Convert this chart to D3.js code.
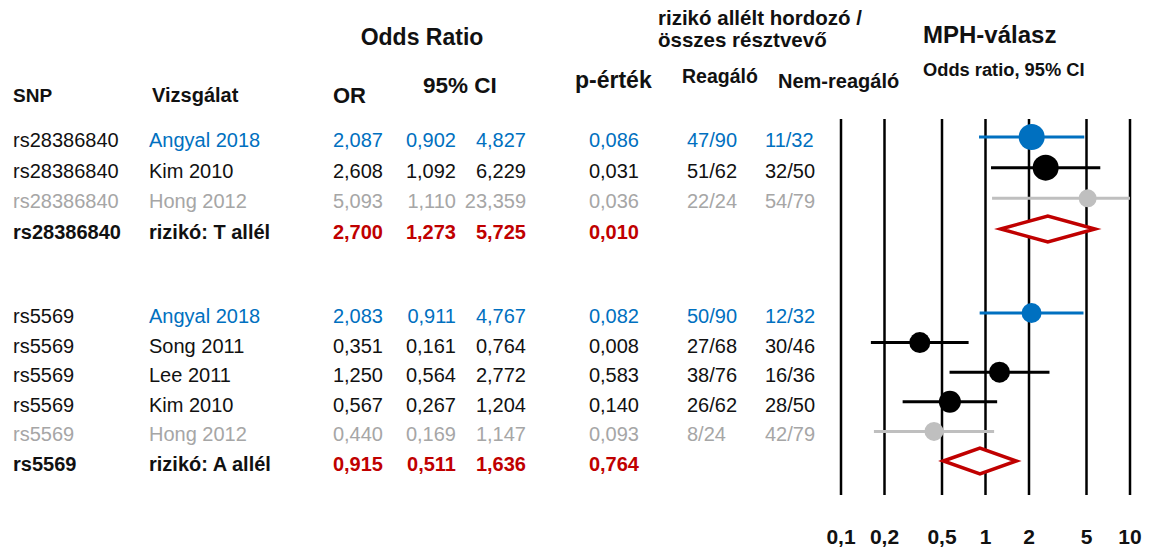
<!DOCTYPE html>
<html>
<head>
<meta charset="utf-8">
<script src="https://cdn.jsdelivr.net/npm/d3@7"></script>
<style>
  html, body { margin: 0; padding: 0; background: #fff; }
  svg { display: block; font-family: "Liberation Sans", Arial, sans-serif; }
</style>
</head>
<body>
<svg id="chart" width="1149" height="550"></svg>
<script>
// Forest plot: MPH response by SNP risk allele
const snps      = ["rs28386840", "rs28386840", "rs28386840", "rs28386840",
                   "rs5569", "rs5569", "rs5569", "rs5569", "rs5569", "rs5569"];
const studies   = ["Angyal 2018", "Kim 2010", "Hong 2012", "rizikó: T allél",
                   "Angyal 2018", "Song 2011", "Lee 2011", "Kim 2010", "Hong 2012", "rizikó: A allél"];
const kinds     = ["own", "lit", "excl", "pooled",
                   "own", "lit", "lit", "lit", "excl", "pooled"];
const groupIdx  = [0, 0, 0, 0, 1, 1, 1, 1, 1, 1];
const orValues  = [2.087, 2.608, 5.093, 2.700, 2.083, 0.351, 1.250, 0.567, 0.440, 0.915];
const ciLow     = [0.902, 1.092, 1.110, 1.273, 0.911, 0.161, 0.564, 0.267, 0.169, 0.511];
const ciHigh    = [4.827, 6.229, 23.359, 5.725, 4.767, 0.764, 2.772, 1.204, 1.147, 1.636];
const pValues   = [0.086, 0.031, 0.036, 0.010, 0.082, 0.008, 0.583, 0.140, 0.093, 0.764];
const responders    = ["47/90", "51/62", "22/24", "", "50/90", "27/68", "38/76", "26/62", "8/24", ""];
const nonResponders = ["11/32", "32/50", "54/79", "", "12/32", "30/46", "16/36", "28/50", "42/79", ""];
const axisTicks = [0.1, 0.2, 0.5, 1, 2, 5, 10];

// marker radius per row (study weight look)
const markerR = [13, 13, 9, 0, 10, 10.5, 10.5, 11, 9.5, 0];

const color = { own: "#0070C0", lit: "#111111", excl: "#A6A6A6", pooled: "#C00000" };
const markColor = { own: "#0070C0", lit: "#000000", excl: "#BFBFBF", pooled: "#C00000" };
// SNP / study name colours (pooled rows keep dark labels, SNP of own rows stays dark)
const snpColor = { own: "#111111", lit: "#111111", excl: "#A6A6A6", pooled: "#111111" };
const studyColor = { own: "#0070C0", lit: "#111111", excl: "#A6A6A6", pooled: "#111111" };

const rows = snps.map((s, i) => ({
  snp: s, study: studies[i], kind: kinds[i], group: groupIdx[i],
  or: orValues[i], lo: ciLow[i], hi: ciHigh[i], p: pValues[i],
  resp: responders[i], nonresp: nonResponders[i], r: markerR[i]
}));
// index of each row inside its group
const counters = {};
rows.forEach(d => { counters[d.group] = (counters[d.group] || 0); d.idx = counters[d.group]++; });

const svg = d3.select("#chart");

const fmt3 = v => d3.format(".3f")(v).replace(".", ",");
const fmtTick = v => String(v).replace(".", ",");

// row baselines, one scale per SNP block
const yScales = [
  d3.scaleLinear().domain([0, 3]).range([147, 239]),
  d3.scaleLinear().domain([0, 5]).range([323, 471])
];
const yBase = d => yScales[d.group](d.idx);

// log odds-ratio scale
const x = d3.scaleLog().domain([0.1, 10]).range([841, 1130]).clamp(true);
const plotTop = 119, plotBottom = 495;

// headers
const hdr = svg.append("g").attr("font-weight", "bold").attr("fill", "#111");
hdr.append("text").attr("x", 422).attr("y", 45).attr("text-anchor", "middle")
   .attr("font-size", 23).text("Odds Ratio");
hdr.append("text").attr("x", 13).attr("y", 102).attr("font-size", 19).text("SNP");
hdr.append("text").attr("x", 152).attr("y", 102).attr("font-size", 20).text("Vizsgálat");
hdr.append("text").attr("x", 333).attr("y", 103).attr("font-size", 22).text("OR");
hdr.append("text").attr("x", 423).attr("y", 93).attr("font-size", 22.5).text("95% CI");
hdr.append("text").attr("x", 575).attr("y", 88).attr("font-size", 23).text("p-érték");
hdr.append("text").attr("x", 658).attr("y", 25).attr("font-size", 20.5).text("rizikó allélt hordozó /");
hdr.append("text").attr("x", 658).attr("y", 47).attr("font-size", 20.5).text("összes résztvevő");
hdr.append("text").attr("x", 682).attr("y", 83).attr("font-size", 19.5).text("Reagáló");
hdr.append("text").attr("x", 778).attr("y", 88).attr("font-size", 20).text("Nem-reagáló");
hdr.append("text").attr("x", 923).attr("y", 43).attr("font-size", 24).text("MPH-válasz");
hdr.append("text").attr("x", 923).attr("y", 76).attr("font-size", 18.3).text("Odds ratio, 95% CI");

// table body
const body = svg.append("g").attr("font-size", 20);
const rowG = body.selectAll("g.row").data(rows).join("g")
  .attr("class", "row")
  .attr("fill", d => color[d.kind])
  .attr("font-weight", d => d.kind === "pooled" ? "bold" : "normal");

rowG.append("text").attr("x", 13).attr("y", yBase)
  .attr("fill", d => snpColor[d.kind])
  .text(d => d.snp);
rowG.append("text").attr("x", 149).attr("y", yBase)
  .attr("fill", d => studyColor[d.kind])
  .text(d => d.study);
rowG.append("text").attr("x", 383).attr("y", yBase).attr("text-anchor", "end").text(d => fmt3(d.or));
rowG.append("text").attr("x", 456).attr("y", yBase).attr("text-anchor", "end").text(d => fmt3(d.lo));
rowG.append("text").attr("x", 526).attr("y", yBase).attr("text-anchor", "end").text(d => fmt3(d.hi));
rowG.append("text").attr("x", 639).attr("y", yBase).attr("text-anchor", "end").text(d => fmt3(d.p));
rowG.append("text").attr("x", 687).attr("y", yBase).text(d => d.resp);
rowG.append("text").attr("x", 765).attr("y", yBase).text(d => d.nonresp);

// reference lines at tick values
svg.append("g").selectAll("line").data(axisTicks).join("line")
  .attr("x1", d => x(d)).attr("x2", d => x(d))
  .attr("y1", plotTop).attr("y2", plotBottom)
  .attr("stroke", "#000").attr("stroke-width", 2.5);

// tick labels
svg.append("g").attr("font-size", 21).attr("font-weight", "bold").attr("fill", "#111")
  .selectAll("text").data(axisTicks).join("text")
  .attr("x", d => x(d)).attr("y", 544).attr("text-anchor", "middle")
  .text(fmtTick);

const markY = d => yBase(d) - 10;
const studiesOnly = rows.filter(d => d.kind !== "pooled");
const pooled = rows.filter(d => d.kind === "pooled");

// confidence intervals
svg.append("g").selectAll("line").data(studiesOnly).join("line")
  .attr("x1", d => x(d.lo)).attr("x2", d => x(d.hi))
  .attr("y1", markY).attr("y2", markY)
  .attr("stroke", d => markColor[d.kind]).attr("stroke-width", 3);

// point estimates
svg.append("g").selectAll("circle").data(studiesOnly).join("circle")
  .attr("cx", d => x(d.or)).attr("cy", markY).attr("r", d => d.r)
  .attr("fill", d => markColor[d.kind]);

// pooled estimates as diamonds
const dh = 13;
svg.append("g").selectAll("path").data(pooled).join("path")
  .attr("d", d => {
    const cy = markY(d);
    return `M${x(d.lo)},${cy} L${x(d.or)},${cy - dh} L${x(d.hi)},${cy} L${x(d.or)},${cy + dh} Z`;
  })
  .attr("fill", "#fff").attr("stroke", markColor.pooled).attr("stroke-width", 3.5)
  .attr("stroke-linejoin", "miter");
</script>
</body>
</html>
